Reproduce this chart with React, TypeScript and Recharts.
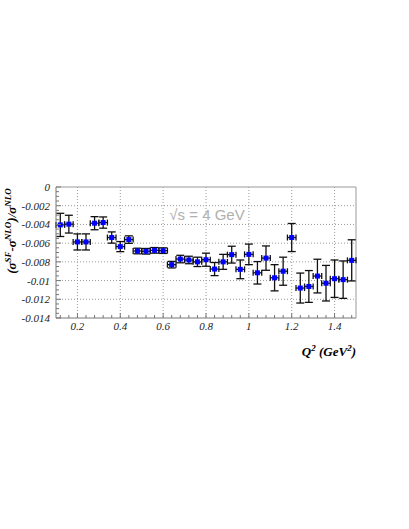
import { ScatterChart, Scatter, XAxis, YAxis, CartesianGrid, ErrorBar, ReferenceLine } from 'recharts'

// Q^2 bin centres (GeV^2)
const Q2 = [
  0.12, 0.16, 0.2, 0.24, 0.28, 0.32, 0.36, 0.4, 0.44, 0.48, 0.52, 0.56,
  0.6, 0.64, 0.68, 0.72, 0.76, 0.8, 0.84, 0.88, 0.92, 0.96, 1.0, 1.04,
  1.08, 1.12, 1.16, 1.2, 1.24, 1.28, 1.32, 1.36, 1.4, 1.44, 1.48,
]
// (sigma^SF - sigma^NLO) / sigma^NLO
const RATIO = [
  -0.00405, -0.00397, -0.00587, -0.00587, -0.00387, -0.0038, -0.0054, -0.00637, -0.00562, -0.00684, -0.00687, -0.00677,
  -0.0068, -0.0083, -0.0077, -0.0078, -0.008, -0.00777, -0.00877, -0.008, -0.00723, -0.0088, -0.0072, -0.00917,
  -0.0076, -0.0097, -0.009, -0.0054, -0.0108, -0.01063, -0.00952, -0.01028, -0.0098, -0.0099, -0.00784,
]
const ERR_Y = [
  0.00124, 0.00095, 0.00086, 0.00086, 0.0007, 0.0006, 0.0006, 0.00054, 0.0004, 0.0003, 0.0003, 0.0003,
  0.0003, 0.00035, 0.0004, 0.0004, 0.0005, 0.0007, 0.0007, 0.0008, 0.0009, 0.001, 0.0011, 0.0012,
  0.0013, 0.0014, 0.0015, 0.0015, 0.0016, 0.0017, 0.0018, 0.0019, 0.002, 0.002, 0.0022,
]
const BIN_HALF = 0.02

const X_MAJOR = [0.2, 0.4, 0.6, 0.8, 1, 1.2, 1.4]
const X_MINOR = [0.12, 0.16, 0.24, 0.28, 0.32, 0.36, 0.44, 0.48, 0.52, 0.56, 0.64, 0.68, 0.72, 0.76, 0.84, 0.88, 0.92, 0.96, 1.04, 1.08, 1.12, 1.16, 1.24, 1.28, 1.32, 1.36, 1.44, 1.48]
const Y_MAJOR = [0, -0.002, -0.004, -0.006, -0.008, -0.01, -0.012, -0.014]
const Y_MINOR = [
  -0.0005, -0.001, -0.0015, -0.0025, -0.003, -0.0035, -0.0045, -0.005, -0.0055, -0.0065, -0.007,
  -0.0075, -0.0085, -0.009, -0.0095, -0.0105, -0.011, -0.0115, -0.0125, -0.013, -0.0135,
]
const Y_GRID = [-0.002, -0.004, -0.006, -0.008, -0.01, -0.012]

const data = Q2.map((q, i) => ({ q2: q, r: RATIO[i], ey: ERR_Y[i], ex: BIN_HALF }))

const isMajor = (v: number, list: number[]) => list.some((m) => Math.abs(m - v) < 1e-9)

const SERIF = 'Liberation Serif, Times New Roman, serif'

function XTick({ x, y, payload }: any) {
  const major = isMajor(payload.value, X_MAJOR)
  return (
    <g>
      <line x1={x} x2={x} y1={y} y2={y - (major ? 5 : 3)} stroke="#777" strokeWidth={1} />
      {major && (
        <text x={x} y={y + 12} textAnchor="middle" fontFamily={SERIF} fontStyle="italic" fontSize={11} fill="#222">
          {String(payload.value)}
        </text>
      )}
    </g>
  )
}

function YTick({ x, y, payload }: any) {
  const major = isMajor(payload.value, Y_MAJOR)
  return (
    <g>
      <line x1={x} x2={x + (major ? 5 : 3)} y1={y} y2={y} stroke="#777" strokeWidth={1} />
      {major && (
        <text x={x - 6} y={y + 4} textAnchor="end" fontFamily={SERIF} fontStyle="italic" fontSize={11} fill="#222">
          {String(payload.value)}
        </text>
      )}
    </g>
  )
}

const square = ({ cx, cy }: any) => <rect x={cx - 2.5} y={cy - 2.5} width={5} height={5} fill="#0000ff" />
const noMark = () => <g />

export default function App() {
  return (
    <div style={{ position: 'absolute', left: 0, top: 0, width: 409, height: 529, background: 'white' }}>
      <ScatterChart width={409} height={529} margin={{ top: 187, right: 53, bottom: 181, left: 0 }}>
        <CartesianGrid
          stroke="#9a9a9a"
          strokeDasharray="1 2"
          horizontalValues={Y_GRID}
          verticalValues={X_MAJOR}
        />
        <XAxis
          type="number"
          dataKey="q2"
          domain={[0.1, 1.5]}
          allowDataOverflow
          ticks={[...X_MAJOR, ...X_MINOR].sort((a, b) => a - b)}
          interval={0}
          tick={<XTick />}
          tickLine={false}
          tickSize={0}
          tickMargin={0}
          height={30}
          stroke="#777"
        />
        <YAxis
          type="number"
          dataKey="r"
          domain={[-0.014, 0]}
          allowDataOverflow
          ticks={[...Y_MAJOR, ...Y_MINOR].sort((a, b) => a - b)}
          interval={0}
          tick={<YTick />}
          tickLine={false}
          tickSize={0}
          tickMargin={0}
          width={56}
          stroke="#777"
        />
        <ReferenceLine y={0} stroke="#999" strokeWidth={1} />
        <ReferenceLine x={1.5} stroke="#999" strokeWidth={1} />
        <Scatter data={data} shape={noMark} isAnimationActive={false}>
          <ErrorBar dataKey="ey" direction="y" width={4} stroke="#111" strokeWidth={1.3} />
          <ErrorBar dataKey="ex" direction="x" width={3} stroke="#111" strokeWidth={1.3} />
        </Scatter>
        <Scatter data={data} shape={square} isAnimationActive={false} />
      </ScatterChart>
      <svg width={409} height={529} style={{ position: 'absolute', left: 0, top: 0, pointerEvents: 'none' }}>
        <text x={207} y={220} textAnchor="middle" fontFamily="Liberation Sans, Arial, sans-serif" fontSize={15} fill="#b0b0b0">
          √s = 4 GeV
        </text>
        <text x={356} y={356} textAnchor="end" fontFamily={SERIF} fontStyle="italic" fontWeight={700} fontSize={13} fill="#000">
          Q<tspan dy={-5} fontSize={9}>2</tspan>
          <tspan dy={5}> (GeV</tspan>
          <tspan dy={-5} fontSize={9}>2</tspan>
          <tspan dy={5}>)</tspan>
        </text>
        <text transform="translate(16,231) rotate(-90)" textAnchor="middle" fontFamily={SERIF} fontStyle="italic" fontWeight={700} fontSize={13} fill="#000">
          (σ<tspan dy={-5} fontSize={9}>SF</tspan>
          <tspan dy={5}>-σ</tspan>
          <tspan dy={-5} fontSize={9}>NLO</tspan>
          <tspan dy={5}>)/σ</tspan>
          <tspan dy={-5} fontSize={9}>NLO</tspan>
        </text>
      </svg>
    </div>
  )
}
